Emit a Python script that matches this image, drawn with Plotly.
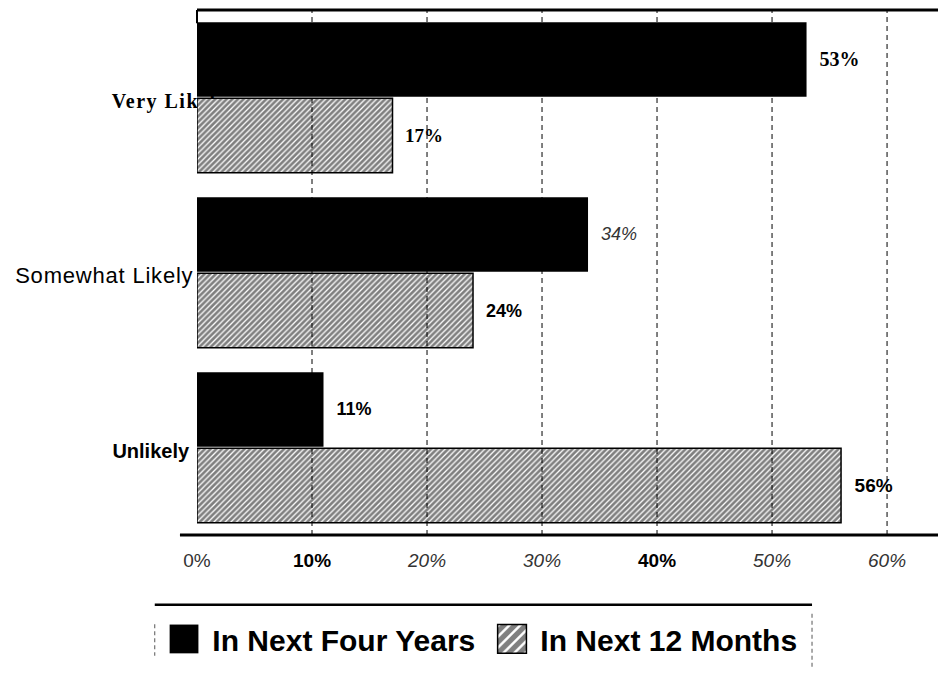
import plotly.graph_objects as go

# ---- data -----------------------------------------------------------------
categories = ["Very Likely", "Somewhat Likely", "Unlikely"]
four_years = [53, 34, 11]
twelve_months = [17, 24, 56]
series_names = ["In Next Four Years", "In Next 12 Months"]
x_ticks = [0, 10, 20, 30, 40, 50, 60]
x_tick_labels = ["0%", "10%", "20%", "30%", "40%", "50%", "60%"]

# ---- typography -----------------------------------------------------------
SERIF = "Liberation Serif"
SANS = "Liberation Sans"
x_tick_styles = ["plain", "bold", "italic", "italic", "bold", "italic", "italic"]
# (family, size, style, colour) for each value label
four_years_label_fonts = [(SERIF, 20, "bold", "#000"), (SANS, 18, "italic", "#444"), (SANS, 18, "bold", "#000")]
twelve_months_label_fonts = [(SERIF, 19, "bold", "#000"), (SANS, 18, "bold", "#000"), (SANS, 19, "bold", "#000")]
category_label_styles = [
    "font-family:Liberation Serif;font-weight:bold;font-size:20px;letter-spacing:1.5px",
    "font-family:Liberation Sans;font-size:22px;letter-spacing:0.8px",
    "font-family:Liberation Sans;font-weight:bold;font-size:20px",
]
category_label_pad = [0, 5, 7]   # trailing spaces so the lower labels sit left of the plot

GAP = "\u00a0\u00a0"
NBSP = "\u00a0"


def styled(text, style):
    if style == "bold":
        return f"<b>{text}</b>"
    if style == "italic":
        return f"<span style=\"fill:#333\"><i>{text}</i></span>"
    return f"<span style=\"fill:#333\">{text}</span>"


def bar_labels(values, fonts):
    return [GAP + styled(f"{v}%", f[2]) for v, f in zip(values, fonts)]


fig = go.Figure()

fig.add_trace(go.Bar(
    name=NBSP + series_names[0], y=categories, x=four_years, orientation="h",
    marker=dict(color="#000000", line=dict(width=0)),
    text=bar_labels(four_years, four_years_label_fonts), textposition="outside",
    textfont=dict(family=[f[0] for f in four_years_label_fonts],
                  size=[f[1] for f in four_years_label_fonts],
                  color=[f[3] for f in four_years_label_fonts]),
    cliponaxis=False, hoverinfo="skip",
))

fig.add_trace(go.Bar(
    name=NBSP + series_names[1], y=categories, x=twelve_months, orientation="h",
    marker=dict(color="#ffffff", line=dict(color="#000000", width=1.5),
                pattern=dict(shape="/", fgcolor="#000000", bgcolor="#ffffff",
                             size=4, solidity=0.68)),
    text=bar_labels(twelve_months, twelve_months_label_fonts), textposition="outside",
    textfont=dict(family=[f[0] for f in twelve_months_label_fonts],
                  size=[f[1] for f in twelve_months_label_fonts],
                  color=[f[3] for f in twelve_months_label_fonts]),
    cliponaxis=False, hoverinfo="skip",
))

# dashed reference lines drawn over the bars
shapes = []
for v in x_ticks[1:]:
    shapes.append(dict(type="line", xref="x", yref="paper", x0=v, x1=v, y0=0, y1=1,
                       layer="above", line=dict(color="#000", width=1, dash="5px,4px")))
# frame lines: top rule and baseline
shapes.append(dict(type="line", xref="paper", yref="paper", x0=0, x1=1, y0=1, y1=1,
                   line=dict(color="#000", width=3)))
shapes.append(dict(type="line", xref="paper", yref="paper", x0=0, x1=0, y0=1, y1=0.975,
                   line=dict(color="#000", width=2)))
shapes.append(dict(type="line", xref="paper", yref="paper", x0=-0.023, x1=1, y0=0, y1=0,
                   line=dict(color="#000", width=3)))
# legend box: top rule plus faint dashed sides
shapes.append(dict(type="line", xref="paper", yref="paper", x0=-0.057, x1=0.83, y0=-0.133, y1=-0.133,
                   line=dict(color="#000", width=2.5)))
shapes.append(dict(type="line", xref="paper", yref="paper", x0=-0.057, x1=-0.057, y0=-0.17, y1=-0.23,
                   line=dict(color="#555", width=1, dash="4px,3px")))
shapes.append(dict(type="line", xref="paper", yref="paper", x0=0.83, x1=0.83, y0=-0.15, y1=-0.255,
                   line=dict(color="#555", width=1, dash="4px,3px")))

y_tick_text = [
    f"<span style=\"{s}\">{c}{chr(160) * p}</span>"
    for c, s, p in zip(categories, category_label_styles, category_label_pad)
]

fig.update_layout(
    width=938, height=675,
    margin=dict(l=197, r=0, t=10, b=140),
    paper_bgcolor="#ffffff", plot_bgcolor="#ffffff",
    barmode="group", bargap=0.13, bargroupgap=0.02,
    showlegend=True,
    legend=dict(orientation="h", x=-0.0445, xanchor="left", y=-0.198, yanchor="middle",
                font=dict(family=SANS, size=30, color="#000", weight="bold"),
                bgcolor="rgba(0,0,0,0)", borderwidth=0,
                entrywidth=283, entrywidthmode="pixels", itemclick=False, itemdoubleclick=False),
    xaxis=dict(range=[0, 64.43], tickvals=x_ticks,
               ticktext=[styled(t, s) for t, s in zip(x_tick_labels, x_tick_styles)],
               tickfont=dict(family=SANS, size=19, color="#000"),
               showgrid=False, zeroline=False, showline=False, ticks="",
               ticklabelstandoff=12, fixedrange=True),
    yaxis=dict(categoryorder="array", categoryarray=categories, autorange="reversed",
               tickvals=categories, ticktext=y_tick_text,
               tickfont=dict(family=SANS, size=20, color="#000"),
               showgrid=False, zeroline=False, showline=False, ticks="",
               layer="below traces", ticklabelstandoff=-32, ticklabelshift=-3,
               fixedrange=True),
    shapes=shapes,
)

# enlarge the legend swatches to the chart's square keys
post_js = """
var gd = document.getElementsByClassName('plotly-graph-div')[0];
gd.querySelectorAll('.legend .legendpoints path').forEach(function (p) {
  var t = p.getAttribute('transform') || '';
  p.setAttribute('transform', t + ' scale(2.4)');
  p.style.vectorEffect = 'non-scaling-stroke';
});
"""

fig.write_html("out.html", config={"displayModeBar": False, "staticPlot": True}, post_script=post_js)
